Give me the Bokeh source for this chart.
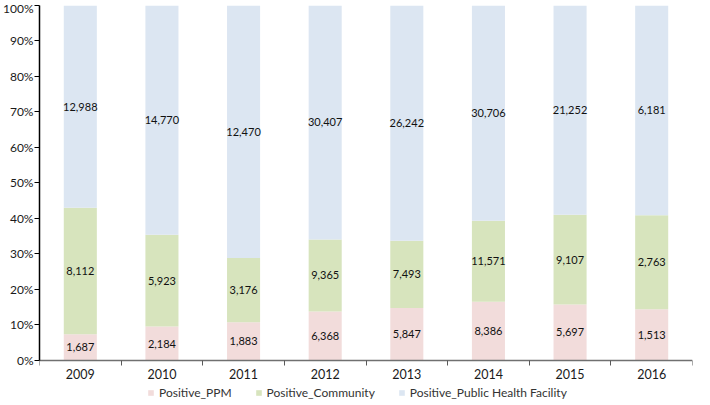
from bokeh.plotting import figure
from bokeh.models import (ColumnDataSource, Range1d, FixedTicker, NumeralTickFormatter,
                          Legend, LegendItem, LabelSet)
from bokeh.embed import file_html
from bokeh.resources import INLINE
from bokeh.core.properties import value

years = ["2009", "2010", "2011", "2012", "2013", "2014", "2015", "2016"]
ppm = [1687, 2184, 1883, 6368, 5847, 8386, 5697, 1513]
community = [8112, 5923, 3176, 9365, 7493, 11571, 9107, 2763]
phf = [12988, 14770, 12470, 30407, 26242, 30706, 21252, 6181]
series_names = ["Positive_PPM", "Positive_Community", "Positive_Public Health Facility"]
colors = ["#F2DCDB", "#D7E4BD", "#DCE6F2"]
y_ticks = [0.0, 0.1, 0.2, 0.3, 0.4, 0.5, 0.6, 0.7, 0.8, 0.9, 1.0]

FONT = "Lato"

x = [i + 0.5 for i in range(len(years))]
tot = [a + b + c for a, b, c in zip(ppm, community, phf)]
p_ppm = [a / t for a, t in zip(ppm, tot)]
p_com = [b / t for b, t in zip(community, tot)]
p_phf = [c / t for c, t in zip(phf, tot)]

src = ColumnDataSource(dict(x=x, ppm=p_ppm, com=p_com, phf=p_phf))

# the frame extends below 0 so that the axis labels and legend sit inside it
p = figure(width=694, height=400, output_backend="svg", toolbar_location=None,
           x_range=Range1d(0, len(years)), y_range=Range1d(-0.1127, 1),
           min_border_left=0, min_border_right=2, min_border_top=5, min_border_bottom=0)
p.outline_line_color = None
p.xgrid.visible = False
p.ygrid.visible = False

renderers = p.vbar_stack(["ppm", "com", "phf"], x="x", width=0.405, color=colors,
                         line_color=None, source=src)

# value labels
lab_x, lab_y, lab_t = [], [], []
for i in range(len(years)):
    bottoms = [0, p_ppm[i], p_ppm[i] + p_com[i]]
    heights = [p_ppm[i], p_com[i], p_phf[i]]
    vals = [ppm[i], community[i], phf[i]]
    for b, h, v in zip(bottoms, heights, vals):
        lab_x.append(x[i])
        lab_y.append(b + h / 2)
        lab_t.append(f"{v:,}")
lsrc = ColumnDataSource(dict(x=lab_x, y=lab_y, t=lab_t))
p.add_layout(LabelSet(x="x", y="y", text="t", source=lsrc, text_align="center",
                      text_baseline="middle", text_font=value(FONT),
                      text_font_size="11px", text_color="#111111"))

# x axis
xa = p.xaxis[0]
xa.fixed_location = 0
xa.ticker = FixedTicker(ticks=x, minor_ticks=list(range(len(years) + 1)))
xa.major_label_overrides = {xi: y for xi, y in zip(x, years)}
xa.major_tick_out = 0
xa.major_tick_in = 0
xa.minor_tick_out = 5
xa.minor_tick_in = 0
xa.minor_tick_line_color = "#595959"
xa.axis_line_color = "#707070"
xa.axis_line_width = 1.5
xa.major_label_text_font = FONT
xa.major_label_text_font_size = "12.5px"
xa.major_label_text_color = "#1a1a1a"
xa.major_label_standoff = 4

# y axis
ya = p.yaxis[0]
ya.bounds = (0, 1)
ya.ticker = FixedTicker(ticks=y_ticks, minor_ticks=[])
ya.formatter = NumeralTickFormatter(format="0%")
ya.major_tick_out = 5
ya.major_tick_in = 0
ya.minor_tick_out = 0
ya.minor_tick_in = 0
ya.axis_line_color = "#000000"
ya.axis_line_width = 1.5
ya.major_tick_line_color = "#000000"
ya.major_label_text_font = FONT
ya.major_label_text_font_size = "12px"
ya.major_label_text_color = "#1a1a1a"
ya.major_label_standoff = 1

items = [LegendItem(label=n, renderers=[r]) for n, r in zip(series_names, renderers)]
legend = Legend(items=items, orientation="horizontal", location=(108, 0),
                border_line_color=None, background_fill_alpha=0,
                label_text_font=FONT, label_text_font_size="12px",
                label_text_color="#333333", glyph_width=7, glyph_height=7,
                label_standoff=5, spacing=23, padding=0, margin=0)
p.add_layout(legend)

open("out.html", "w").write(file_html(p, INLINE))
